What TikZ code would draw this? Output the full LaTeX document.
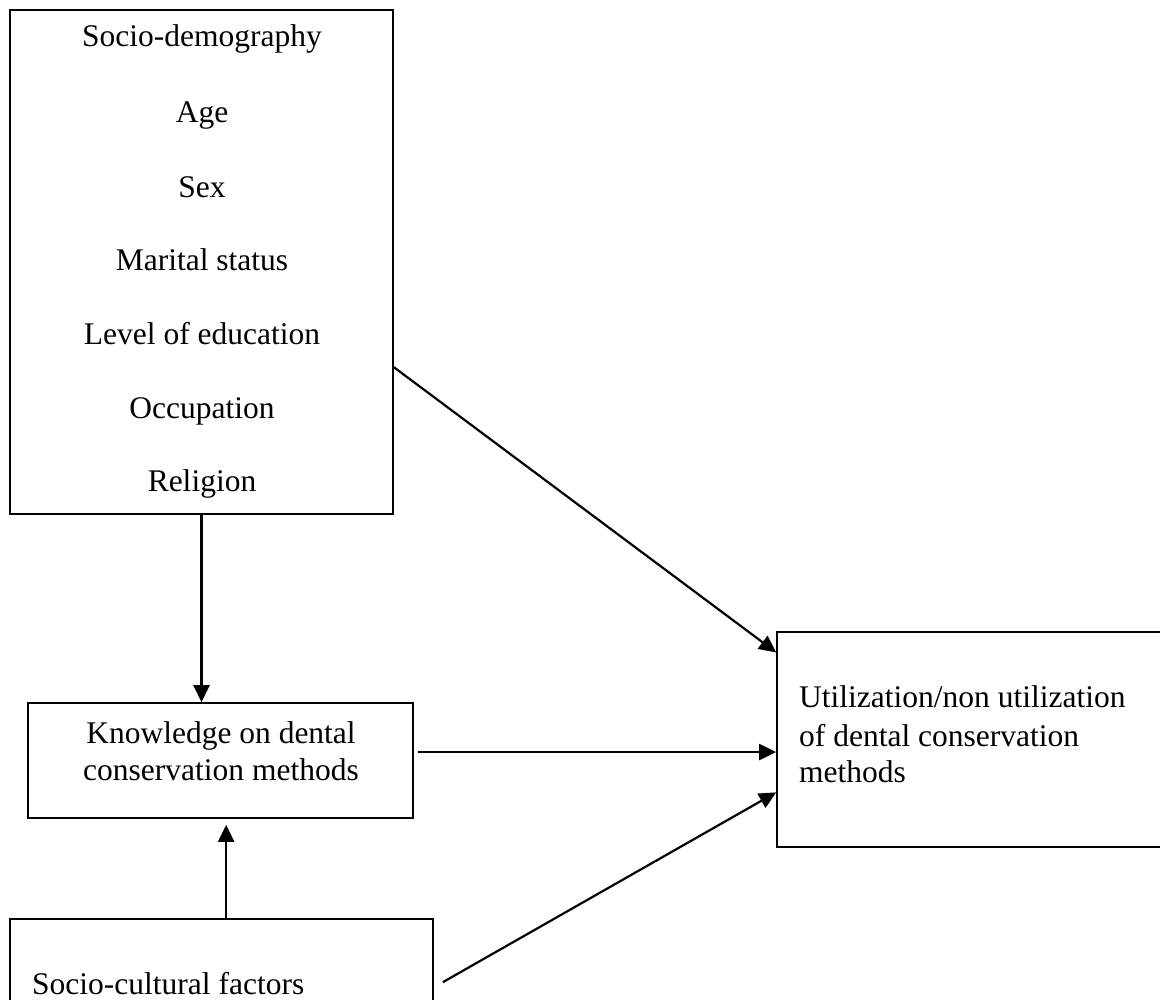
\documentclass[tikz,border=0pt]{standalone}
\usepackage{fontspec}
\setmainfont{Liberation Serif}
\usetikzlibrary{arrows.meta,calc}
\begin{document}
\begin{tikzpicture}[x=1pt,y=-1pt,
  boxnode/.style={draw=black,line width=1.6pt,rectangle,inner sep=0pt},
  txt/.style={inner sep=0pt,anchor=base,font=\fontsize{31.5}{37.5}\selectfont},
  arr/.style={line width=2.2pt,-{Triangle[length=17pt,width=16pt]}}]
\useasboundingbox (0,0) rectangle (1160,1000);
\clip (0,0) rectangle (1160,1000);
\fill[white] (0,0) rectangle (1160,1000);
% boxes
\node[boxnode,minimum width=383pt,minimum height=504pt] (b1) at (201.5,262) {};
\node[boxnode,minimum width=385pt,minimum height=115pt] (b2) at (220.5,760.5) {};
\node[boxnode,minimum width=423pt,minimum height=111pt] (b3) at (221.5,974.5) {};
\node[boxnode,minimum width=403pt,minimum height=215pt] (b4) at (978.5,739.5) {};
% texts box 1
\node[txt] (t1) at (202,47) {Socio-demography};
\node[txt] (t2) at (202,123) {Age};
\node[txt] (t3) at (202,198) {Sex};
\node[txt] (t4) at (202,271) {Marital status};
\node[txt] (t5) at (202,345) {Level of education};
\node[txt] (t6) at (202,418) {Occupation};
\node[txt] (t7) at (202,491) {Religion};
% box 2
\node[txt] (k1) at (221,743) {Knowledge on dental};
\node[txt] (k2) at (221,780) {conservation methods};
% box 3
\node[txt,anchor=base west] (s1) at (32,994) {Socio-cultural factors};
% box 4
\node[txt,anchor=base west] (u1) at (799,707) {Utilization/non utilization};
\node[txt,anchor=base west] (u2) at (799,746) {of dental conservation};
\node[txt,anchor=base west] (u3) at (799,782) {methods};
% connector points
\coordinate (e2) at ($(b4.north west)!0.098!(b4.south west)$);
\coordinate (e3) at ($(b4.north west)!0.558!(b4.south west)$);
\coordinate (e5) at ($(b4.north west)!0.744!(b4.south west)$);
\coordinate (s4) at ($(b3.north west)!0.511!(b3.north east)$);
% arrows
\draw[arr] (b1.south) -- (b1.south |- b2.north);
\draw[arr] ($(b1.north east)!0.708!(b1.south east)$) -- (e2);
\draw[arr] ([xshift=4pt]b2.east |- e3) -- (e3);
\draw[arr] (s4) -- ([yshift=-6pt]s4 |- b2.south);
\draw[arr] ([xshift=9pt,yshift=-64pt]b3.north east) -- (e5);
\end{tikzpicture}
\end{document}
